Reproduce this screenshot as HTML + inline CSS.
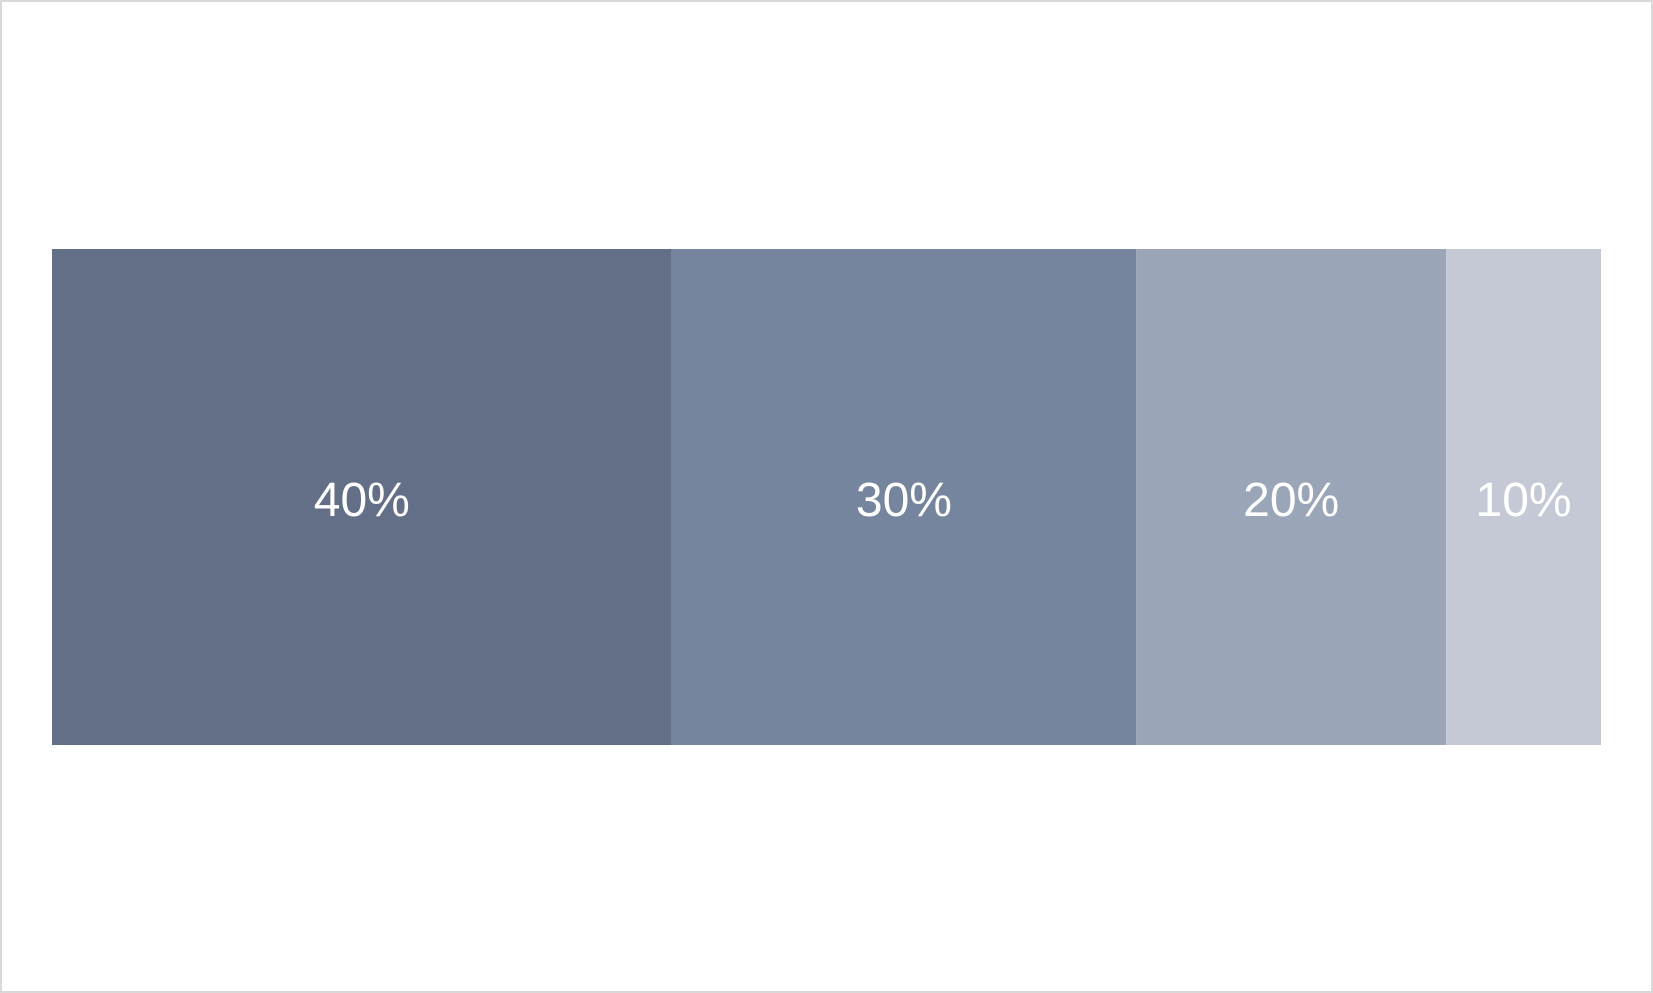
<!DOCTYPE html>
<html><head><meta charset="utf-8"><style>
html,body{margin:0;padding:0;background:#fff;}
#frame{position:absolute;left:0;top:0;width:1649px;height:989px;border:2px solid #d9d9d9;background:#fff;}
svg{position:absolute;left:0;top:0;}
</style></head><body>
<div id="frame"></div>
<svg id="chart" width="1653" height="993"></svg>
<script>
const categories = ["Segment A","Segment B","Segment C","Segment D"];
const values = [40,30,20,10];
const labels = ["40%","30%","20%","10%"];
const colors = ["#636f87","#76859e","#9aa5b8","#c5c9d5"];
const svg = document.getElementById('chart');
const NS = 'http://www.w3.org/2000/svg';
const x0 = 52, x1 = 1601, yTop = 249, yBot = 745;
const total = values.reduce((a,b)=>a+b,0);
const xScale = v => x0 + (v/total)*(x1-x0);
let cum = 0;
values.forEach((v,i)=>{
  const xa = xScale(cum), xb = xScale(cum+v);
  const r = document.createElementNS(NS,'rect');
  r.setAttribute('x',xa); r.setAttribute('y',yTop);
  r.setAttribute('width',xb-xa); r.setAttribute('height',yBot-yTop);
  r.setAttribute('fill',colors[i]);
  
  
  svg.appendChild(r);
  const t = document.createElementNS(NS,'text');
  t.setAttribute('x',(xa+xb)/2); t.setAttribute('y',(yTop+yBot)/2+19);
  t.setAttribute('text-anchor','middle');
  t.setAttribute('fill','#ffffff');
  t.setAttribute('font-family','"Liberation Sans", sans-serif');
  t.setAttribute('font-size','48');
  t.textContent = labels[i];
  
  
  svg.appendChild(t);
  cum += v;
});
</script>
</body></html>
